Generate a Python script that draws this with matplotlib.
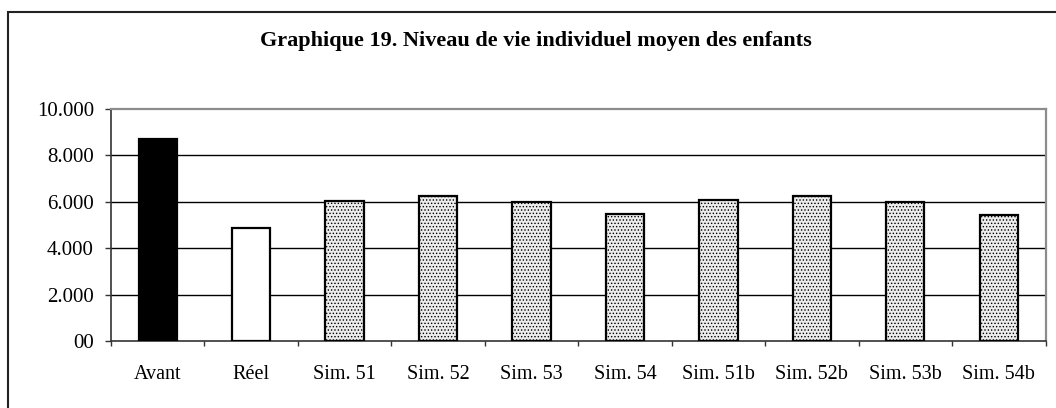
import matplotlib
matplotlib.use("Agg")
import matplotlib.pyplot as plt
from matplotlib.patches import Rectangle

categories = ["Avant", "Réel", "Sim. 51", "Sim. 52", "Sim. 53", "Sim. 54",
              "Sim. 51b", "Sim. 52b", "Sim. 53b", "Sim. 54b"]
values = [8690, 4880, 6050, 6250, 5970, 5470, 6060, 6250, 5970, 5440]
ytick_values = [0, 2000, 4000, 6000, 8000, 10000]
ytick_labels = ["00", "2.000", "4.000", "6.000", "8.000", "10.000"]
title = "Graphique 19. Niveau de vie individuel moyen des enfants"

plt.rcParams['font.family'] = ['Liberation Serif', 'DejaVu Serif']
plt.rcParams['hatch.color'] = '#7a7a7a'
plt.rcParams['hatch.linewidth'] = 0.6

W, H = 1056, 408
fig = plt.figure(figsize=(W / 100, H / 100), dpi=100)
ax = fig.add_axes([111 / W, 1 - 341 / H, (1045.5 - 111) / W, (341 - 109) / H])

x = list(range(len(categories)))
facecolors = ['black', 'white'] + ['#ececec'] * 8
hatches = [None, None] + ['.....'] * 8
for xi, v, fc, h in zip(x, values, facecolors, hatches):
    ax.bar(xi, v, width=0.41, color=fc, edgecolor='black', linewidth=1.6,
           hatch=h, zorder=3)

ax.set_xlim(-0.5, len(categories) - 0.5)
ax.set_ylim(0, 10000)
ax.set_yticks(ytick_values)
ax.set_yticklabels(ytick_labels, fontsize=15)
ax.set_xticks([i + 0.5 for i in range(-1, len(categories))], minor=False)
ax.set_xticklabels([])
ax.set_xticks(x, minor=True)
ax.set_xticklabels(categories, minor=True, fontsize=14.5)
ax.tick_params(axis='x', which='major', direction='out', length=3.6, width=1,
               color='#333333')
ax.tick_params(axis='x', which='minor', length=0, pad=17)
ax.tick_params(axis='y', direction='out', length=4.3, width=1, pad=8,
               color='#333333')

for yv in ytick_values[1:-1]:
    ax.axhline(yv, color='black', linewidth=1.0, zorder=1)

for side in ['top', 'right']:
    ax.spines[side].set_color('#8c8c8c')
    ax.spines[side].set_linewidth(1.6)
for side in ['left', 'bottom']:
    ax.spines[side].set_color('#333333')
    ax.spines[side].set_linewidth(1.2)

# outer chart frame (left and top edges visible)
fig.patches.append(Rectangle((8 / W, -0.2), 1.2, 0.2 + (1 - 12 / H),
                             transform=fig.transFigure, fill=False,
                             edgecolor='#222222', linewidth=1.5))

fig.text(536 / W, 1 - 41 / H, title, ha='center', va='center',
         fontsize=16, fontweight='bold')

fig.savefig("out.png", dpi=100)
